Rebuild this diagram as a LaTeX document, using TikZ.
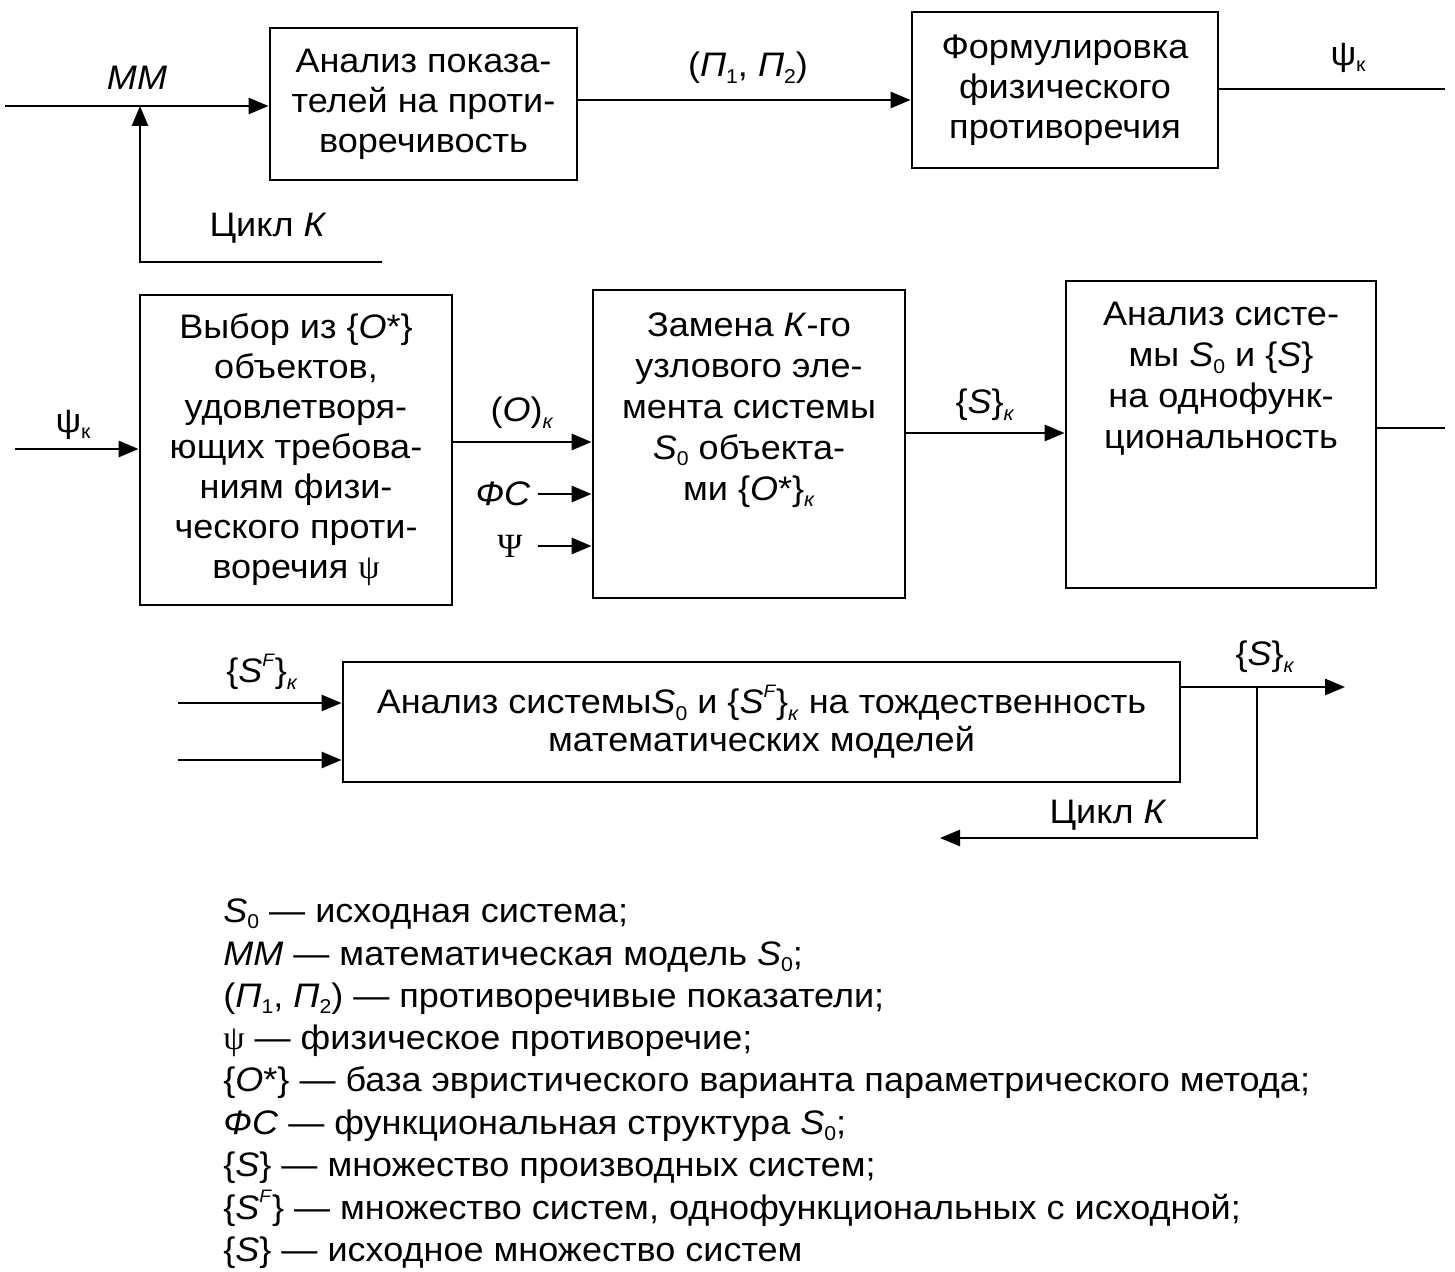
\documentclass[tikz,border=0pt]{standalone}
\usepackage{fontspec}
\setmainfont[FakeStretch=1.06]{Liberation Sans}
\newfontfamily\serif{Liberation Serif}
\usetikzlibrary{arrows.meta}
\newcommand\lsub[1]{\raisebox{-0.35ex}{\fontsize{10}{10}\selectfont #1}}
\newcommand\lsup[1]{\raisebox{0.9ex}{\fontsize{9}{9}\selectfont #1}}
\begin{document}
\begin{tikzpicture}[x=0.5pt,y=-0.5pt,line width=1.4pt,
  box/.style={draw,inner sep=0pt,align=center,font=\fontsize{17}{20}\selectfont},
  boxtxt/.style={inner sep=0pt,align=center,anchor=north,font=\fontsize{17}{20.5}\selectfont},
  arr/.style={-{Triangle[length=10pt,width=8pt]}},
  lbl/.style={inner sep=0pt,font=\fontsize{17}{20}\selectfont},
  leg/.style={inner sep=0pt,anchor=base west,font=\fontsize{17}{20}\selectfont}]
\useasboundingbox (0,0) rectangle (1455,1272);

% boxes
\node[box,minimum width=153.5pt,minimum height=76pt] (A) at (423.5,104)
  {Анализ показа-\\телей на проти-\\воречивость};
\node[box,minimum width=153pt,minimum height=78pt] (B) at (1065,90)
  {Формулировка\\физического\\противоречия};
\node[box,minimum width=156pt,minimum height=155pt] (C) at (296,450)
  {Выбор из \{\textit{O}*\}\\объектов,\\удовлетворя-\\ющих требова-\\ниям физи-\\ческого проти-\\воречия {\serif ψ}};
\node[box,minimum width=156pt,minimum height=154pt] (D) at (749,444) {};
\node[boxtxt] (Dt) at (749,311)
  {Замена \textit{К}-го\\узлового эле-\\мента системы\\\textit{S}\lsub{0} объекта-\\ми \{\textit{O}*\}\lsub{\textit{к}}};
\node[box,minimum width=155pt,minimum height=153.5pt] (E) at (1221,434.5) {};
\node[boxtxt] (Et) at (1221,301)
  {Анализ систе-\\мы \textit{S}\lsub{0} и \{\textit{S}\}\\на однофунк-\\циональность};
\node[box,minimum width=418.5pt,minimum height=60pt,font=\fontsize{17}{19}\selectfont] (F) at (761.5,722)
  {Анализ системы\textit{S}\lsub{0} и \{\textit{S}\lsup{\textit{F}}\}\lsub{\textit{к}} на тождественность\\математических моделей};

% labels
\node[lbl] (mm) at (137,78) {\textit{ММ}};
\node[lbl] (ck1) at (268,228) {Цикл \textit{К}};
\node[lbl] (pp) at (748,68) {(\textit{П}\lsub{1}, \textit{П}\lsub{2})};
\node[lbl] (psk1) at (1348,58) {ψ\lsub{к}};
\node[lbl] (psk2) at (73,425) {ψ\lsub{к}};
\node[lbl] (ok) at (522,413) {(\textit{O})\lsub{\textit{к}}};
\node[lbl] (fs) at (503,494) {\textit{ФС}};
\node[lbl] (ps) at (510,546) {\serif Ψ};
\node[lbl] (sk1) at (985,405) {\{\textit{S}\}\lsub{\textit{к}}};
\node[lbl] (sfk) at (262,672) {\{\textit{S}\lsup{\textit{F}}\}\lsub{\textit{к}}};
\node[lbl] (sk2) at (1265,657) {\{\textit{S}\}\lsub{\textit{к}}};
\node[lbl] (ck2) at (1108,815) {Цикл \textit{К}};

% connectors
\coordinate (mm0) at (5,106);
\coordinate (j1) at (140,106);
\coordinate (fb0) at (382,262);
\draw[arr] (mm0) -- (mm0 -| A.west);
\draw[arr] (fb0) -| (j1);
\coordinate (ab) at (0,100);
\draw[arr] (A.east |- ab) -- (B.west |- ab);
\coordinate (bo) at (1445,89);
\draw (B.east |- bo) -- (bo);
\coordinate (ci) at (15,449);
\draw[arr] (ci) -- (ci -| C.west);
\coordinate (oy) at (0,442);
\draw[arr] (C.east |- oy) -- (D.west |- oy);
\draw[arr] ([xshift=3pt]fs.east) -- (fs.east -| D.west);
\draw[arr] ([xshift=7pt]ps.east) -- (ps.east -| D.west);
\coordinate (sy) at (0,433);
\draw[arr] (D.east |- sy) -- (E.west |- sy);
\coordinate (eo) at (1445,428);
\draw (E.east |- eo) -- (eo);
\coordinate (f1) at (178,703);
\coordinate (f2) at (178,760);
\draw[arr] (f1) -- (f1 -| F.west);
\draw[arr] (f2) -- (f2 -| F.west);
\coordinate (fo) at (1345,687);
\draw[arr] (F.east |- fo) -- (fo);
\coordinate (j2) at (1257,687);
\coordinate (cke) at (940,838);
\draw[arr] (j2) |- (cke);

% legend
\node[leg] (l1) at (222,922) {\textit{S}\lsub{0} — исходная система;};
\node[leg] (l2) at (222,965) {\textit{ММ} — математическая модель \textit{S}\lsub{0};};
\node[leg] (l3) at (222,1007) {(\textit{П}\lsub{1}, \textit{П}\lsub{2}) — противоречивые показатели;};
\node[leg] (l4) at (222,1049) {{\serif ψ} — физическое противоречие;};
\node[leg] (l5) at (222,1091) {\{\textit{O}*\} — база эвристического варианта параметрического метода;};
\node[leg] (l6) at (222,1134) {\textit{ФС} — функциональная структура \textit{S}\lsub{0};};
\node[leg] (l7) at (222,1176) {\{\textit{S}\} — множество производных систем;};
\node[leg] (l8) at (222,1219) {\{\textit{S}\lsup{\textit{F}}\} — множество систем, однофункциональных с исходной;};
\node[leg] (l9) at (222,1261) {\{\textit{S}\} — исходное множество систем};
\end{tikzpicture}
\end{document}
